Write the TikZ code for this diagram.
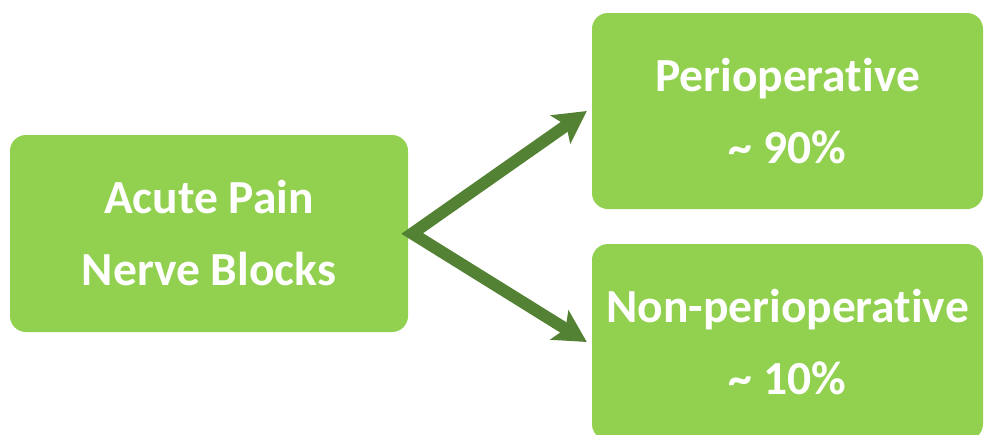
\documentclass[tikz,border=0pt]{standalone}
\usepackage{fontspec}
\setmainfont[Ligatures=NoCommon]{Carlito}
\usetikzlibrary{arrows.meta,calc}
\definecolor{boxgreen}{HTML}{92D050}
\definecolor{arrowgreen}{HTML}{548235}
\begin{document}
\begin{tikzpicture}[x=1pt,y=-1pt,
  gbox/.style={fill=boxgreen, draw=none, rounded corners=16pt, inner sep=0pt,
    text=white, font=\fontsize{47.5}{72}\selectfont\bfseries, align=center},
  conn/.style={draw=arrowgreen, line width=12pt, line join=miter,
    {Stealth[length=32pt,width=34pt,inset=7pt]}-{Stealth[length=32pt,width=34pt,inset=7pt]}}]
\useasboundingbox (0,0) rectangle (984,434);
\begin{scope}
\clip (0,0) rectangle (984,434);
\node[gbox, minimum width=398pt, minimum height=197pt] (lb) at (209,233.5) {Acute Pain\\Nerve Blocks};
\node[gbox, minimum width=391pt, minimum height=196pt] (tr) at (787.5,111) {Perioperative\\\textasciitilde\ 90\%};
\node[gbox, minimum width=391pt, minimum height=196pt] (br) at (787.5,342) {Non-perioperative\\\textasciitilde\ 10\%};
\coordinate (v) at ($(lb.east)+(4,0)$);
\coordinate (t1) at ($(tr.west)+(-5,0)$);
\coordinate (t2) at ($(br.west)+(-5,0)$);
\draw[conn] (t1) -- (v) -- (t2);
\end{scope}
\end{tikzpicture}
\end{document}
